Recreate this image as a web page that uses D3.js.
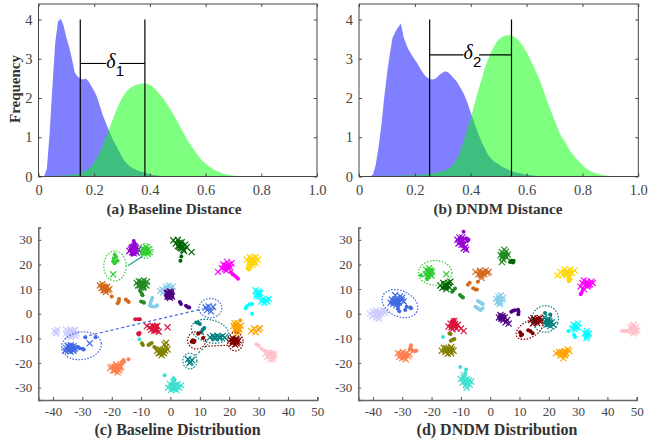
<!DOCTYPE html>
<html>
<head>
<meta charset="utf-8">
<title>distance and distribution</title>
<style>
body { margin: 0; background: #fff; }
text { font-family: "Liberation Serif", serif; }
</style>
</head>
<body>
<script src="https://cdn.jsdelivr.net/npm/d3@7"></script>
<script>
// histogram bins, one value per 0.01 of distance starting at 0
const baseBlue = [0,0,0,.2,1.1,2.3,3.4,3.95,4.02,3.85,3.55,3.3,3,2.65,2.55,2.5,2.47,2.5,2.42,2.3,2.18,2.03,1.8,1.58,1.4,1.22,1.05,.89,.77,.63,.5,.39,.31,.25,.21,.17,.14,.12,.1,.08,.06,.04,.03,.02,.02,.01,0];
const baseGreen = [0,0,0,0,0,.01,.01,.02,.02,.03,.03,.04,.05,.05,.06,.08,.11,.15,.2,.27,.35,.47,.62,.78,.96,1.14,1.33,1.52,1.7,1.86,2,2.12,2.2,2.26,2.3,2.33,2.35,2.37,2.37,2.36,2.33,2.29,2.22,2.14,2.06,1.97,1.86,1.75,1.63,1.51,1.38,1.25,1.12,.99,.87,.76,.66,.56,.47,.39,.33,.27,.22,.18,.14,.11,.08,.06,.05,.03,.02,.02,.01,.01,0];
const dndmBlue = [0,0,0,0,0,.05,.3,.75,1.3,2,2.6,3.1,3.53,3.68,3.8,3.9,3.55,3.35,3.2,3.08,2.97,2.87,2.74,2.63,2.54,2.5,2.47,2.48,2.53,2.6,2.65,2.68,2.65,2.58,2.5,2.42,2.3,2.18,2.03,1.85,1.63,1.43,1.23,1.04,.87,.72,.58,.48,.41,.35,.31,.26,.22,.19,.15,.13,.11,.09,.08,.06,.05,.04,.03,.02,.01,0];
const dndmGreen = [0,0,0,0,0,.01,.01,.01,.01,.01,.01,.02,.02,.02,.02,.02,.03,.03,.03,.03,.03,.04,.04,.05,.06,.07,.08,.09,.1,.12,.14,.16,.2,.24,.32,.44,.6,.8,1.02,1.25,1.48,1.75,2.02,2.27,2.5,2.75,2.95,3.12,3.27,3.4,3.49,3.54,3.58,3.6,3.6,3.58,3.54,3.48,3.39,3.28,3.17,3.03,2.88,2.73,2.57,2.4,2.2,2,1.8,1.62,1.44,1.26,1.08,.96,.86,.72,.62,.53,.44,.37,.29,.22,.18,.13,.1,.08,.06,.04,.03,.02,.01,.01,0];
const binWidth = 0.01;

const distTicks = [0, 0.2, 0.4, 0.6, 0.8, 1];
const distTickLabels = ["0", "0.2", "0.4", "0.6", "0.8", "1.0"];
const freqTicks = [0, 1, 2, 3, 4];
const baseDeltas = [0.15, 0.382];
const dndmDeltas = [0.253, 0.546];
const baseDeltaY = 2.88;
const dndmDeltaY = 3.1;

const scatterXTicks = [-40, -30, -20, -10, 0, 10, 20, 30, 40, 50];
const scatterYTicks = [-30, -20, -10, 0, 10, 20, 30];

const classColors = ["#ccccff","#4169e1","#9400d3","#32cd32","#006400","#228b22","#d2691e","#87ceeb","#4b0082","#dc143c","#808000","#ff7f50","#40e0d0","#ff00ff","#ffd700","#00ffff","#ffa500","#008080","#800000","#ffc0cb"];

// one list per class, same order as classColors
const baselineCrosses = [
 [[-39.5,-7],[-39,-8],[-38.5,-6.5],[-38.8,-7.5],[-35.5,-8],[-35,-7],[-35,-9],[-34.3,-8],[-34,-6.5],[-33.8,-9.5],[-33.2,-7.5],[-33,-8.5],[-32.5,-6.5],[-32,-8],[-34.5,-9],[-32.8,-7],[-34.5,-7.5],[-33.7,-7.8],[-34,-8.6],[-33,-6.8],[-35.5,-6.5],[-32.3,-9]],
 [[-35.5,-14],[-35,-13],[-34.8,-15],[-34.3,-13.8],[-34,-12.8],[-34,-15.3],[-33.5,-14],[-33,-13.2],[-33,-15],[-32.5,-14],[-34.5,-14.5],[-34.2,-14.2],[-33.8,-13.4],[-33.4,-14.6],[-34.6,-13.4],[-33,-14.2],[-35.8,-15],[-27.5,-12],[12.5,1.5],[13,3],[14.5,2.8],[13.8,1],[12,2.5]],
 [[-13.5,26],[-13,27],[-13,25],[-12.5,26.5],[-12.5,24.5],[-12.3,27.5],[-12,25.5],[-11.8,26.5],[-11.5,24.8],[-11,26],[-12.5,25.5],[-14,25.5],[-12.8,26.2],[-12.2,26],[-12,27],[-13.2,26.5],[-12.5,27],[-11.8,25.5],[-12.8,25]],
 [[-9.5,25],[-9.3,26.5],[-9,24.5],[-8.8,26],[-8.5,25],[-8.3,27],[-8,25.5],[-7.8,24.5],[-7.5,26],[-7.2,25],[-8.7,25.5],[-8.4,26],[-8.2,24.8],[-8.9,25.2],[-7.8,25.8],[-19.5,16]],
 [[1,29.8],[1.8,28.5],[2.5,30],[2.6,27.5],[3,28.8],[3.4,26.8],[3.8,29],[4,27.5],[4.4,26],[5,28],[4.6,25.5],[5.5,27],[7.2,25],[3.2,27.8],[3.6,28],[3,27.2],[4.2,27],[3.8,26.5]],
 [[-11.5,12.5],[-11,11.5],[-10.8,13.2],[-10.2,12],[-10,13],[-9.8,11],[-9.5,12.5],[-9.2,10.5],[-9,13.5],[-8.7,12],[-8.2,11.5],[-8,13],[-10,10.5],[-9.7,11.8],[-9.5,11.5],[-10,12.3],[-9.3,12],[-9.2,11.2],[-10.4,11.5]],
 [[-24,11.5],[-23.5,10.5],[-23.2,12],[-22.8,9.5],[-22.5,11],[-22,10],[-22,8.8],[-21.5,11],[-21.2,9.5],[-20.8,10],[-23,11],[-22.3,10.5],[-22.8,10.5],[-21.8,10.5],[-22.2,9.5]],
 [[-3.5,9.2],[-2.8,10],[-2,9],[-1.5,11],[-1.2,10],[-.5,11.5],[0,10.5],[.8,11],[-2.5,8.5]],
 [[-1.2,8.5],[-1,7],[-.8,7.8],[-.3,9],[-.2,6.5],[.2,8],[.5,7],[-.5,7.5],[.2,8.8],[-1,8],[-.4,8],[-.2,7.4],[-.7,8.4],[0,7.7],[-.5,6.9],[.3,7.4]],
 [[-8,-5],[-7,-5.5],[-6.5,-6.5],[-6,-5],[-5.5,-7],[-5,-5.8],[-4.8,-6.8],[-4.5,-5],[-4,-7.3],[-1,-5.5],[-5.5,-5.5],[-5.5,-6.2],[-5,-6.4],[-5.2,-5.2]],
 [[-4.5,-15],[-4,-16],[-3.5,-14.5],[-3,-15.5],[-3,-16.8],[-2.5,-14.5],[-2.2,-16],[-2,-12.5],[-1.8,-15],[-1.5,-13.5],[-1.5,-11.8],[-1,-14.5],[-3,-15],[-2.6,-15.5],[-3.4,-15.8]],
 [[-20.5,-22],[-20,-21.5],[-19.5,-23],[-19,-21.5],[-19,-23],[-18.5,-22.3],[-18.5,-20.5],[-18,-23.8],[-18,-21.5],[-17.5,-23],[-17.2,-22],[-16.8,-21.5],[-18.5,-22],[-19,-22.2],[-18,-22.5],[-18.3,-21.5]],
 [[-.8,-30],[-.2,-28.5],[.2,-31],[.6,-29.5],[1,-27.8],[1.2,-30.5],[1.5,-29],[2,-31],[2,-29.5],[2.5,-28.5],[3,-30],[3.6,-29],[1,-29.5],[1.3,-30],[.8,-29],[1.8,-29.8],[.5,-30.3]],
 [[16.2,17],[17.5,18.5],[18,20],[18.5,18],[19,19.5],[19.3,21],[19.5,18.5],[20,20],[20.3,18.8],[20.8,20.5],[19,17.5],[19.2,19],[18.8,19],[19.5,19.5],[18.5,19.2]],
 [[26,22],[26.8,20.5],[27,23],[27.5,21],[28,22.5],[28,20],[28.5,21.5],[29,23],[29,20.5],[29.8,22],[27,19.5],[27.8,21.5],[28.2,21],[27.5,22],[27.2,21.2]],
 [[29,9.5],[29.5,8],[30,9],[30,7],[30.5,8.5],[29.2,7.2],[31,5],[31.5,6],[32,4.5],[32.5,5.5],[33,5],[33.5,6],[29.8,8.2],[30.2,8]],
 [[21.5,-5],[22,-6.5],[22.3,-5],[22.8,-7],[23,-5.5],[23.5,-6.5],[24,-4.8],[22.5,-8],[21.8,-3.8],[22.8,-3.8],[22.6,-6],[23,-6.2],[22.2,-5.8],[23.3,-5.8],[27.5,-7],[28.5,-6],[29,-7.5],[30,-6.5],[30.5,-5.8]],
 [[13.5,-9.5],[14.5,-9],[15.5,-9.8],[16,-9],[17,-9.5],[17.8,-9],[18.5,-9.6],[15,-10],[15,-9.4],[16.5,-9.6],[6,-18.5],[6.8,-19.5],[7.3,-18.8],[6.5,-20]],
 [[20.5,-10.5],[21,-12],[21.3,-10],[21.8,-11.2],[22,-12.5],[22.3,-10.2],[22.8,-11.5],[23.2,-10.8],[21.5,-11],[22.5,-12],[21.8,-11],[22.2,-11],[21.5,-11.6],[22,-10.6],[22.5,-10.8],[21.2,-11]],
 [[32.5,-16],[33,-17.5],[33.5,-15.8],[34,-17],[34,-18.5],[34.5,-16],[35,-17.5],[35.5,-16.5],[33.5,-17],[35,-18.5],[34,-17.2],[34.5,-17],[33.8,-16.4],[34.8,-16.5]]
];
const baselineDots = [
 [],
 [[-31.5,-13.5],[-31,-14],[-30,-14.2],[-29.5,-14.5],[-29,-9.5],[-25.5,-9.5]],
 [[-12.5,29.5],[-12.2,28.5],[-13,24]],
 [[-19,24],[-19.3,22.5],[-18.5,23],[-19.5,21.2],[-18.7,21],[-18,21.5],[-19,20.5]],
 [[3.7,23.2],[3.4,21.5]],
 [[-10.2,9],[-9.7,8],[-9.5,7.5],[-10,5],[-9.2,4.7],[-9,4.5]],
 [[-20,7],[-17.5,6],[-17.6,5],[-18,4.3],[-15.2,5.8],[-14.7,5.3],[-14.2,4.8]],
 [[-6.2,6.5],[-6.5,5.5],[-6.8,4.5],[-7,3.5],[-6.5,3],[-5.8,2.8],[-5,3],[-4.5,3.5]],
 [[3.2,4.8],[3.6,4],[5.3,3.2],[6,2.6],[6.4,2.5]],
 [[-12,-2.2],[-11,-2.2],[-10.4,-2.2],[-11,-8],[-10.5,-7.8],[-10.8,-8.4]],
 [[-9.7,-12],[-9.4,-12.7],[-7.5,-12.7],[-7,-12.3],[-6.4,-11.9],[-5.5,-13.5],[-5,-14]],
 [[-16.5,-19.5],[-16,-18.8],[-15.8,-19.5],[-14.3,-18.5],[-17,-20.5]],
 [[-2,-25],[1,-26.2],[-10.6,-10.3],[1.3,-26.8]],
 [[20.6,16.8],[21.2,16],[21.8,15.5],[22.5,14.8],[23,14.2]],
 [[26.3,18.5],[26.8,18]],
 [[25.6,2.2],[26,3],[27,3.9],[27.8,4],[27.8,0]],
 [[23.8,-2.6]],
 [[8.8,-3.6],[9.6,-3.8],[10,-4.2],[11.5,-5.8],[11,-6.4],[10.6,-7.4],[10.2,-7.6]],
 [[7.6,-10.8],[7.2,-11.4],[8.2,-11],[9.4,-8.1],[11.1,-9.8],[7.9,-11.6]],
 [[29.3,-12.4],[30,-13],[31,-14.2],[32,-15]]
];
const dndmCrosses = [
 [[-41,0],[-40.3,-1],[-40,.8],[-39.5,-.3],[-39,1.2],[-38.8,-1.5],[-38.3,0],[-37.8,-1],[-37.5,1],[-37,0],[-36.5,1.5],[-36,.3],[-35.5,1],[-38,-2],[-38.5,.3],[-38,.5],[-39,-.3],[-38,-.5]],
 [[-34,4.5],[-33.5,5.8],[-33,4],[-32.8,5],[-32.4,7.5],[-32,5.5],[-32,3.5],[-31.5,6],[-31.2,4.5],[-30.7,7],[-30.2,5.5],[-30,6.5],[-29.5,5],[-32.5,5],[-32,4.6],[-33,5],[-31.5,5.2],[-32.3,5.8]],
 [[-11.2,30],[-10.8,28.5],[-10.5,31],[-10,29.5],[-9.8,28],[-9.5,31],[-9.3,30],[-9,26.5],[-9,28],[-8.5,27],[-8.2,26],[-10,29.8],[-9.8,29.2],[-10.3,29],[-9.5,29.6]],
 [[-22,16],[-21.8,17.8],[-21.3,15.5],[-21,17],[-20.8,18.5],[-20.5,16],[-20.3,17.5],[-20,15.5],[-19.8,17],[-20.8,17],[-20.5,16.8],[-21,16.5],[-20.6,17.5],[-20.4,16.2],[-21.2,17.2],[-15,16]],
 [[-17,11.5],[-16.3,10.5],[-16,12.5],[-15.5,11],[-15.2,12],[-15,10],[-14.5,11.5],[-14.2,12.5],[-13.6,13],[-14,10.8],[-15.3,11.3],[-15,11.5],[-15.6,11.6],[-15,11]],
 [[4,25],[4.2,23],[4.5,22],[4.8,26],[5,24],[5.4,25.2],[5.6,23],[3.6,23.8],[4,21],[6,24],[4.8,24],[4.6,24.5],[5,23.4],[4.5,23.5]],
 [[-5,17],[-4,16],[-3.5,17.5],[-3,15.5],[-2.5,17],[-2,16],[-1.5,17.5],[-1,16.5],[-.5,17],[-3,14.5],[-3,16.6],[-2.6,16.4],[-3.2,16]],
 [[2,6],[2.5,4.8],[2.8,7],[3,6],[3.4,4.5],[3.6,7.4],[4,5.8],[4.4,6.5],[3.2,3.8],[3,5.8],[3.3,5.2],[2.8,5]],
 [[3,-1.5],[3.5,-.5],[3.8,-2],[4.2,-1],[4.5,-2.5],[5,-1.5],[5.3,-3.5],[5.8,-2.5],[6.3,-4],[4,-1.6],[4.3,-1.8],[3.8,-1.2]],
 [[-14.2,-5.2],[-13.5,-4],[-13.2,-5.5],[-12.8,-6.2],[-12.5,-4],[-12,-5],[-11.5,-6],[-11,-4.5],[-9,-7],[-10,-6],[-12.3,-3],[-12.5,-5],[-12.8,-4.6],[-12.2,-5.4],[-12,-4.2]],
 [[-16.5,-15],[-15.8,-13.8],[-15.3,-15.5],[-15,-14],[-14.5,-16.2],[-13.8,-15],[-13.4,-16],[-13,-14.5],[-13.3,-13.5],[-12.5,-15],[-15,-14.8],[-15.4,-14.6],[-13.5,-15],[-13.8,-14.4]],
 [[-31.5,-16],[-31,-17.5],[-30.5,-16.3],[-30,-18],[-29.8,-15.5],[-29.3,-17],[-28.8,-18.5],[-28.5,-16],[-28,-17.3],[-27.5,-16.5],[-29.8,-17],[-29.5,-16.5],[-30.2,-16.8],[-29,-16.6],[-29.3,-17.8]],
 [[-10,-26.5],[-9.5,-28],[-9,-26],[-8.8,-27.5],[-8.3,-29],[-8,-26.5],[-7.8,-28],[-7.2,-27],[-7,-28.8],[-6.5,-27.5],[-8,-30],[-9,-24.8],[-8,-27.6],[-8.4,-27.2],[-7.6,-28],[-8,-28.4]],
 [[30.8,11],[31.5,12.5],[32,10],[32.5,11.5],[33,13],[33.2,11],[34,12],[34.5,13],[32,13.5],[35,12.5],[33.2,12],[33.5,11.6],[32.8,12.2]],
 [[23,15.5],[24,17],[24.8,16],[25.3,18],[25.8,15.5],[26.5,17],[27,15],[27.3,18],[28,16.5],[28.8,17.5],[25.5,16.6],[26,16.8],[27,16.5],[26,16]],
 [[28,-6],[28.5,-4.5],[29,-6.3],[29.3,-5],[30,-5.5],[30,-4],[32.3,-8],[33,-7],[33,-9.2],[33.7,-8],[32.8,-10],[29.2,-5.4],[33,-8],[33.3,-8.5]],
 [[22.5,-16],[23.5,-15.5],[24,-17],[24.5,-15.5],[25,-16.5],[25,-18],[25.5,-15.2],[26,-16],[26.5,-14.5],[27,-15.2],[25,-16],[24.6,-16.3],[25.4,-16.4],[24,-16],[25.6,-17]],
 [[17.5,-3],[18.5,-1.5],[19,-3.5],[19.3,-2.5],[19.8,-4],[20,-2.2],[20.5,-5],[21,-3.5],[21.6,-4.5],[19.8,-3.8],[20,-4.2],[19.5,-3],[20.5,-3.6],[19.2,-4.5],[20.2,-3]],
 [[14,-2.5],[14.8,-1.8],[15,-3.5],[15.4,-2.6],[16,-3.8],[16.2,-2],[16.8,-3],[14.6,-4],[17,-1.8],[15.3,-2.9],[15.6,-3.2],[15,-2.6],[15.8,-2.6]],
 [[47.8,-5.5],[48.3,-7],[48.6,-5],[49,-6.3],[49.4,-7.5],[49.8,-5.5],[50.2,-6.8],[49,-4.5],[48.8,-8],[49,-6.4],[49.3,-6],[48.8,-6.8],[49.5,-6.8],[48.6,-6]]
];
const dndmDots = [
 [],
 [[-31.5,2],[-31,1],[-31.3,3.5],[-29,1.5],[-28.5,2.8],[-27.3,2.5],[-27,2.2]],
 [[-9.1,33.3],[-8,30.5],[-7.4,30],[-7.8,29.5]],
 [[-23.6,15.6],[-21.5,14],[-21,14.8]],
 [[7.2,21.5],[7.8,20.8],[6.8,21],[8,21.5]],
 [[-13,8.9],[-12.6,9.4],[-12,10.2],[-10.3,7.6],[-9.7,7],[-9.3,6.6]],
 [[-7.6,11.8],[-7,12.6],[-5.8,10.3],[-5,9.8],[-4.5,9.8],[-4.2,13]],
 [[-4.2,5.2],[-3.6,4.8],[-3,4.3],[-2.5,4],[-5,2.8],[-4.4,2.4],[-3.8,1.8],[-3.2,1.5],[-2.6,2.2]],
 [[7.2,.8],[7.8,1.2],[8.4,1.4],[9.5,1.6],[9.7,.8],[9.6,-.2]],
 [[-12.3,-2.4],[-13,-3]],
 [[-13.9,-8],[-13.5,-8.2],[-13.4,-11],[-12.8,-10.5],[-12.2,-10.2]],
 [[-27,-12.8],[-27.2,-13.8],[-26.5,-14.8],[-25.8,-15.2],[-25.2,-15],[-27.5,-14.5]],
 [[-16.1,-9.4],[-10.2,-21.6],[-8.2,-22.6],[-8.5,-24]],
 [[30.9,7.9],[31.2,8.6],[31.6,9.6]],
 [[26.8,13.2],[27.2,13.6],[27,14.5]],
 [[26.7,-7],[28.6,-8.6],[29,-9.4]],
 [],
 [[18.7,.3],[20.5,-.3]],
 [[10.2,-7.5],[10.9,-8.4],[10.5,-8.8],[13,-6.7],[13.8,-7.1],[14.5,-7.9]],
 [[45,-7],[45.6,-7],[46.2,-7],[46.9,-7]]
];

// rings and connecting lines: class, then data coordinates
const baselineRings = [[3,-18.9,19.4,3.8,6.1,0],[3,-8.5,25.5,2.6,3,0],[1,-30.3,-13,6.8,5.6,-8],[1,13.6,2.3,3.9,3.9,0],[17,13.5,-7.1,6.5,4.6,14],[17,6.6,-19.2,2.4,3.2,0],[18,8.9,-10.8,3.1,3.5,0],[18,22.1,-11.3,2.6,3.8,0]];
const baselineLinks = [[1,-29.5,-9.3,11,2,"3 2.5"],[3,-14.5,19.5,-9.5,23.3,""],[17,8.5,-16.9,12.8,-12.4,"2 2"],[18,11.9,-13.2,19.7,-12.8,"1.5 1.5"]];
const dndmRings = [[1,-30.8,4.1,6.4,5.2,25],[3,-18.8,16.6,5.7,5,0],[18,13.4,-6.3,5,3.3,-30],[17,18.8,-2.1,4.5,5.4,20]];
const dndmLinks = [];

const axisGray = "#444";
const svg = d3.select("body").append("svg").attr("width", 656).attr("height", 442).style("display", "block");

function drawHistogram(left, right, blue, green, deltas, deltaY, gapFrom, gapTo, sub, caption, captionX) {
    const x = d3.scaleLinear().domain([0, 1]).range([left, right]);
    const y = d3.scaleLinear().domain([0, 4]).range([176.5, 19.5]);
    const yTop = 4;
    const g = svg.append("g");
    const area = d3.area()
        .x(function(d, i) { return x(i * binWidth); })
        .y0(y(0))
        .y1(function(d) { return y(d); });
    g.append("path").attr("d", area(blue)).attr("fill", "#0000ff").attr("opacity", 0.5);
    g.append("path").attr("d", area(green)).attr("fill", "#00ff00").attr("opacity", 0.5);

    // box with inward ticks on all four sides
    g.append("rect").attr("x", left).attr("y", yTop).attr("width", right - left).attr("height", y(0) - yTop)
        .attr("fill", "none").attr("stroke", axisGray).attr("stroke-width", 1);
    const bottom = g.append("g").attr("transform", "translate(0," + y(0) + ")")
        .call(d3.axisBottom(x).tickValues(distTicks).tickSize(-3).tickPadding(8).tickFormat(function(d, i) { return distTickLabels[i]; }));
    g.append("g").attr("transform", "translate(0," + yTop + ")")
        .call(d3.axisTop(x).tickValues(distTicks).tickSize(-3).tickFormat(""));
    g.append("g").attr("transform", "translate(" + left + ",0)")
        .call(d3.axisLeft(y).tickValues(freqTicks).tickSize(-3).tickPadding(6).tickFormat(d3.format("d")));
    g.append("g").attr("transform", "translate(" + right + ",0)")
        .call(d3.axisRight(y).tickValues(freqTicks).tickSize(-3).tickFormat(""));
    g.selectAll(".domain").remove();
    g.selectAll(".tick line").attr("stroke", axisGray);
    g.selectAll(".tick text").attr("fill", "#444").style("font-size", "14.5px").style("font-family", "Liberation Serif");

    // delta markers
    deltas.forEach(function(d) {
        g.append("line").attr("x1", x(d)).attr("x2", x(d)).attr("y1", y(0)).attr("y2", y(4))
            .attr("stroke", "#000").attr("stroke-width", 1.2);
    });
    g.append("line").attr("x1", x(deltas[0])).attr("x2", x(gapFrom)).attr("y1", y(deltaY)).attr("y2", y(deltaY)).attr("stroke", "#000").attr("stroke-width", 1.1);
    g.append("line").attr("x1", x(gapTo)).attr("x2", x(deltas[1])).attr("y1", y(deltaY)).attr("y2", y(deltaY)).attr("stroke", "#000").attr("stroke-width", 1.1);
    g.append("text").attr("x", x(gapFrom)).attr("y", y(deltaY) + 4.5)
        .style("font-style", "italic").style("font-size", "20px").text("δ");
    g.append("text").attr("x", x(gapFrom) + 9.5).attr("y", y(deltaY) + 12.5)
        .style("font-family", "Liberation Sans").style("font-size", "15px").text(sub);

    svg.append("text").attr("x", captionX).attr("y", 214).attr("text-anchor", "middle")
        .style("font-weight", "bold").style("font-size", "15.2px").attr("fill", "#333").text(caption);
}

function drawScatter(left, right, crosses, dots, rings, links, caption, captionX) {
    const x = d3.scaleLinear().domain([-45, 50]).range([left, right]);
    const y = d3.scaleLinear().domain([-35, 35]).range([400, 227.5]);
    const g = svg.append("g");
    const cross = d3.symbol().type(d3.symbolX).size(26);

    classColors.forEach(function(c, k) {
        g.append("g").selectAll("circle").data(dots[k]).enter().append("circle")
            .attr("cx", function(d) { return x(d[0]); })
            .attr("cy", function(d) { return y(d[1]); })
            .attr("r", 2)
            .attr("fill", c);
        g.append("g").selectAll("path").data(crosses[k]).enter().append("path")
            .attr("d", cross)
            .attr("transform", function(d) { return "translate(" + x(d[0]) + "," + y(d[1]) + ")"; })
            .attr("fill", "none")
            .attr("stroke", c)
            .attr("stroke-width", 1.2);
    });

    g.selectAll("ellipse").data(rings).enter().append("ellipse")
        .attr("rx", function(d) { return d[3] * (x(1) - x(0)); })
        .attr("ry", function(d) { return d[4] * (y(0) - y(1)); })
        .attr("transform", function(d) { return "translate(" + x(d[1]) + "," + y(d[2]) + ") rotate(" + d[5] + ")"; })
        .attr("fill", "none")
        .attr("stroke", function(d) { return classColors[d[0]]; })
        .attr("stroke-width", 1.2)
        .attr("stroke-dasharray", "1.5 1.5");
    g.selectAll("line.link").data(links).enter().append("line")
        .attr("class", "link")
        .attr("x1", function(d) { return x(d[1]); })
        .attr("y1", function(d) { return y(d[2]); })
        .attr("x2", function(d) { return x(d[3]); })
        .attr("y2", function(d) { return y(d[4]); })
        .attr("stroke", function(d) { return d[5] == "" ? "#20a080" : classColors[d[0]]; })
        .attr("stroke-width", 1.2)
        .attr("stroke-dasharray", function(d) { return d[5]; });

    const ax = g.append("g").attr("transform", "translate(0," + y(-35) + ")")
        .call(d3.axisBottom(x).tickValues(scatterXTicks).tickSize(-3).tickPadding(7));
    const ay = g.append("g").attr("transform", "translate(" + left + ",0)")
        .call(d3.axisLeft(y).tickValues(scatterYTicks).tickSize(-3).tickPadding(6));
    [ax, ay].forEach(function(a) {
        a.select(".domain").attr("stroke", "#666").attr("stroke-width", 1.5);
        a.selectAll(".tick line").attr("stroke", "#555");
        a.selectAll(".tick text").attr("fill", "#444").style("font-size", "13px").style("font-family", "Liberation Serif")
            .text(function(d) { return String(d); });
    });

    svg.append("text").attr("x", captionX).attr("y", 435).attr("text-anchor", "middle")
        .style("font-weight", "bold").style("font-size", "16px").attr("fill", "#333").text(caption);
}

drawHistogram(38.5, 317, baseBlue, baseGreen, baseDeltas, baseDeltaY, 0.243, 0.29, "1", "(a) Baseline Distance", 174);
drawHistogram(359, 638.3, dndmBlue, dndmGreen, dndmDeltas, dndmDeltaY, 0.374, 0.43, "2", "(b) DNDM Distance", 498);
drawScatter(38.3, 317.3, baselineCrosses, baselineDots, baselineRings, baselineLinks, "(c) Baseline Distribution", 177.5);
drawScatter(358.3, 636.7, dndmCrosses, dndmDots, dndmRings, dndmLinks, "(d) DNDM Distribution", 497);

svg.append("text").attr("transform", "translate(19.5,89) rotate(-90)").attr("text-anchor", "middle")
    .style("font-weight", "bold").style("font-size", "15px").attr("fill", "#333").text("Frequency");
</script>
</body>
</html>
